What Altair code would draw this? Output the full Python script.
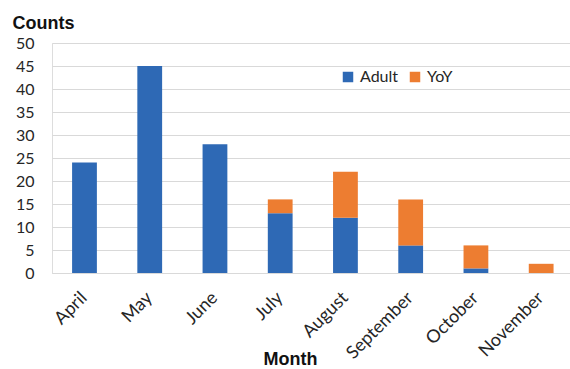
import altair as alt
import pandas as pd

months = ["April", "May", "June", "July", "August", "September", "October", "November"]
adult = [24, 45, 28, 13, 12, 6, 1, 0]
yoy = [0, 0, 0, 3, 10, 10, 5, 2]
groups = ["Adult", "YoY"]
colors = ["#2e69b5", "#ed7d31"]
y_ticks = list(range(0, 51, 5))

rows = []
for m, a, y in zip(months, adult, yoy):
    rows.append({"Month": m, "Group": "Adult", "Count": a, "ord": 0})
    rows.append({"Month": m, "Group": "YoY", "Count": y, "ord": 1})
df = pd.DataFrame(rows)

chart = alt.Chart(df).mark_bar().encode(
    x=alt.X("Month:N", sort=months,
            scale=alt.Scale(paddingInner=0.62, paddingOuter=0.28, align=0.55),
            axis=alt.Axis(title="Month", labelAngle=-45, labelAlign="right",
                          labelBaseline="middle", labelPadding=22, ticks=False,
                          domainColor="#d9d9d9", labelFont="Lato", labelFontSize=18,
                          labelColor="#262626", titleFont="Liberation Sans",
                          titleFontSize=18, titleFontWeight="bold", titleColor="#111111",
                          titleX=238, titleY=91, titleBaseline="alphabetic",
                          titleAnchor="start", titleAlign="center")),
    y=alt.Y("Count:Q", stack="zero",
            scale=alt.Scale(domain=[0, 50], nice=False),
            axis=alt.Axis(title="Counts", values=y_ticks, domain=False, ticks=False,
                          gridColor="#d9d9d9", labelFont="Lato", labelFontSize=16,
                          labelColor="#262626", labelPadding=18,
                          titleFont="Liberation Sans", titleFontSize=18,
                          titleFontWeight="bold", titleColor="#111111", titleAngle=0,
                          titleX=-40, titleY=-15, titleAlign="left",
                          titleBaseline="alphabetic")),
    color=alt.Color("Group:N", scale=alt.Scale(domain=groups, range=colors),
                    legend=alt.Legend(title=None, orient="none", direction="horizontal",
                                      legendX=288, legendY=26, symbolType="square",
                                      symbolSize=110, symbolStrokeWidth=0,
                                      labelFont="Lato", labelFontSize=16,
                                      labelColor="#262626", columnPadding=8,
                                      labelOffset=4)),
    order=alt.Order("ord:Q", sort="ascending"),
).properties(
    width=518, height=230,
    autosize=alt.AutoSizeParams(type="none"),
    padding={"left": 52, "top": 43, "right": 0, "bottom": 96},
).configure_view(stroke=None).configure(background="white")

chart.save("out.html", embed_options={"renderer": "svg", "actions": False})
